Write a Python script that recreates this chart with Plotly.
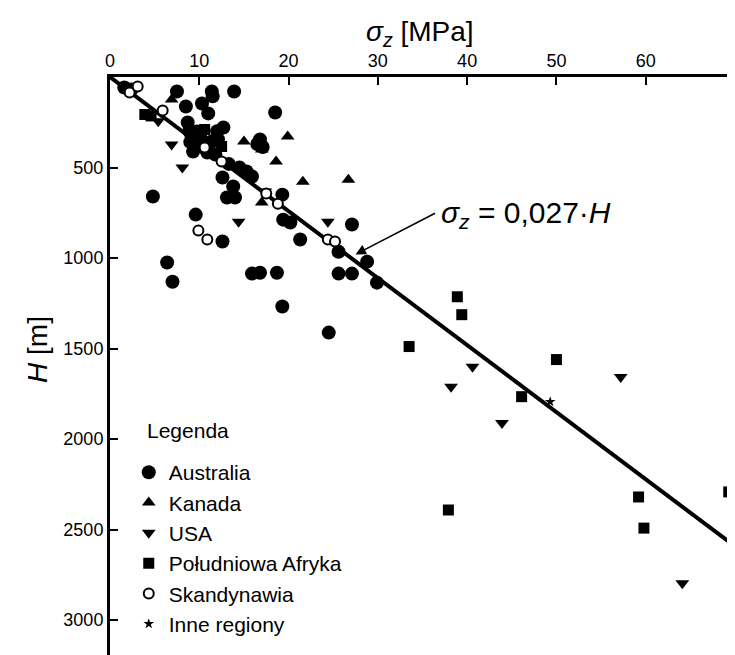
import plotly.graph_objects as go

# ---- data (sigma_z [MPa], H [m]) ----
aus_s = [1.6, 2.4, 7.5, 11.4, 11.5, 13.9, 18.5, 10.3, 11.0, 8.5, 12.7, 8.7, 9.7, 10.1, 10.8,
         11.4, 12.1, 16.8, 10.9, 11.8, 12.6, 15.3, 15.9, 13.8, 13.1, 14.0, 4.8, 9.6, 12.6,
         19.3, 19.4, 20.2, 21.3, 25.6, 6.4, 7.0, 15.9, 16.8, 18.7, 19.3, 24.5, 25.6, 27.1,
         28.8, 29.9, 27.1, 8.9, 9.3, 10.5, 17.1, 16.5, 14.5, 13.3, 9.0, 12.0]
aus_h = [58, 69, 80, 80, 107, 80, 196, 146, 201, 163, 279, 251, 301, 329, 373,
         356, 345, 345, 417, 428, 555, 522, 550, 605, 666, 666, 660, 760, 909,
         650, 788, 804, 898, 965, 1025, 1131, 1086, 1081, 1081, 1268, 1412, 1086, 1086,
         1020, 1136, 815, 300, 412, 390, 387, 370, 500, 480, 360, 300]

kan_s = [6.9, 15.0, 17.0, 19.9, 18.6, 21.6, 26.7, 17.0]
kan_h = [124, 356, 400, 329, 467, 578, 567, 693]

usa_s = [5.4, 6.9, 8.1, 14.4, 17.4, 24.4, 40.6, 38.2, 43.9, 57.2, 64.1]
usa_h = [245, 373, 500, 799, 633, 799, 1601, 1711, 1911, 1657, 2796]

rpa_s = [3.9, 4.6, 12.5, 9.5, 10.6, 9.0, 38.9, 39.4, 33.5, 50.0, 46.1, 37.9, 59.2, 59.8, 69.3]
rpa_h = [207, 215, 384, 362, 290, 334, 1214, 1313, 1489, 1561, 1766, 2392, 2320, 2492, 2292]

ska_s = [2.2, 3.1, 5.9, 10.6, 12.5, 17.5, 18.8, 9.9, 10.9, 24.4, 25.2]
ska_h = [86, 52, 185, 389, 467, 644, 700, 848, 898, 898, 909]

inne_s = [49.3]
inne_h = [1794]

coef = 0.027
line_s = [0, 70]
line_h = [s / coef for s in line_s]

x_ticks = [0, 10, 20, 30, 40, 50, 60]
y_ticks = [500, 1000, 1500, 2000, 2500, 3000]

FONT = "Liberation Sans, Arial, sans-serif"

fig = go.Figure()
fig.add_trace(go.Scatter(x=line_s, y=line_h, mode="lines",
                         line=dict(color="black", width=4), showlegend=False,
                         hoverinfo="skip"))

series = [
    ("Australia", aus_s, aus_h, dict(symbol="circle", size=14, color="black")),
    ("Kanada", kan_s, kan_h, dict(symbol="triangle-up", size=12, color="black")),
    ("USA", usa_s, usa_h, dict(symbol="triangle-down", size=12, color="black")),
    ("Południowa Afryka", rpa_s, rpa_h, dict(symbol="square", size=11, color="black")),
    ("Skandynawia", ska_s, ska_h, dict(symbol="circle", size=10, color="white",
                                       line=dict(color="black", width=2))),
    ("Inne regiony", inne_s, inne_h, dict(symbol="star", size=8, color="black")),
]
for name, xs, ys, mk in series:
    fig.add_trace(go.Scatter(x=xs, y=ys, mode="markers", name=name, marker=mk,
                             legendgroup=name))

fig.update_layout(
    width=735, height=655,
    margin=dict(l=102, r=8, t=69, b=8),
    plot_bgcolor="white", paper_bgcolor="white",
    font=dict(family=FONT, color="black", size=18),
    showlegend=True,
    legend=dict(
        x=0.03, y=0.351, xanchor="left", yanchor="top",
        font=dict(size=21), traceorder="grouped", tracegroupgap=0,
        bgcolor="rgba(0,0,0,0)", itemsizing="trace",
    ),
    xaxis=dict(
        side="top", range=[0, 70], tickvals=x_ticks, ticks="inside", ticklen=8,
        tickwidth=2, tickcolor="black", showline=True, linewidth=3, linecolor="black",
        showgrid=False, zeroline=False, tickfont=dict(size=18),
    ),
    yaxis=dict(
        range=[3193, 0], tickvals=y_ticks, ticks="inside", ticklen=8,
        tickwidth=2, tickcolor="black", showline=True, linewidth=3, linecolor="black",
        showgrid=False, zeroline=False, tickfont=dict(size=18),
    ),
    annotations=[
        dict(text="<i>σ</i><sub><i>z</i></sub> [MPa]", xref="paper", yref="paper",
             x=0.496, y=1.076, xanchor="center", yanchor="middle", showarrow=False,
             font=dict(size=28)),
        dict(text="<i>H</i> [m]", xref="paper", yref="paper", textangle=-90,
             x=-0.115, y=0.528, xanchor="center", yanchor="middle", showarrow=False,
             font=dict(size=28)),
        dict(text="Legenda", xref="paper", yref="paper", x=0.056, y=0.389,
             xanchor="left", yanchor="middle", showarrow=False, font=dict(size=21)),
        dict(text="<i>σ</i><sub><i>z</i></sub> = 0,027·<i>H</i>", x=36.9, y=760,
             xanchor="left", yanchor="middle", showarrow=False, font=dict(size=30)),
        dict(text="", x=27.5, y=980, ax=81, ay=-42, showarrow=True, arrowhead=2,
             arrowsize=1.3, arrowwidth=1.6, arrowcolor="black"),
    ],
)

fig.write_html("out.html")
